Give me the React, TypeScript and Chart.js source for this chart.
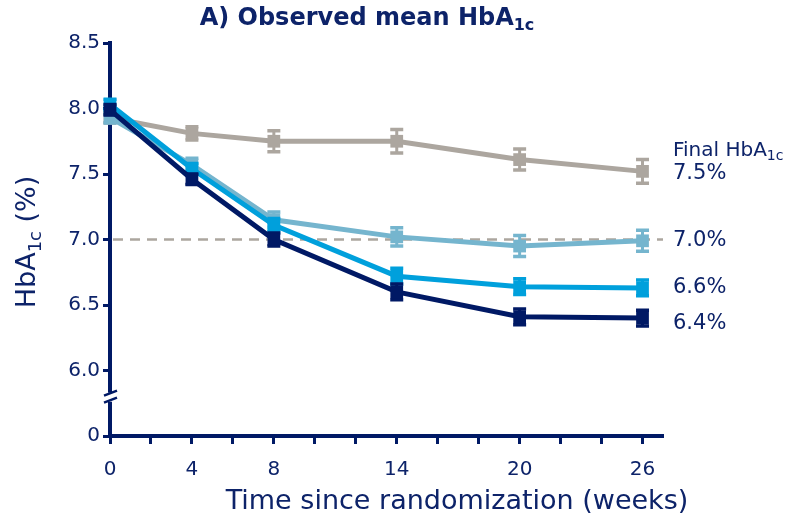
import React, { useEffect, useRef } from "react";
import { Chart, registerables } from "chart.js";

Chart.register(...registerables);

// ---- data ----
const weeks = [0, 4, 8, 14, 20, 26];
const xMinorTicks = [0, 2, 4, 6, 8, 10, 12, 14, 16, 18, 20, 22, 24, 26];
const xLabelWeeks = [0, 4, 8, 14, 20, 26];
const yTicks = [5.5, 6.0, 6.5, 7.0, 7.5, 8.0, 8.5];
const yBreakLabelValue = 5.5; // shown as "0" below the axis break

const navyMean = [7.99, 7.46, 7.0, 6.6, 6.41, 6.4];
const navyErr = [0.04, 0.04, 0.05, 0.06, 0.06, 0.06];
const cyanMean = [8.03, 7.54, 7.11, 6.72, 6.64, 6.63];
const cyanErr = [0.04, 0.04, 0.05, 0.06, 0.06, 0.06];
const lightBlueMean = [7.93, 7.57, 7.15, 7.02, 6.95, 6.99];
const lightBlueErr = [0.04, 0.05, 0.06, 0.07, 0.08, 0.08];
const grayMean = [7.93, 7.81, 7.75, 7.75, 7.61, 7.52];
const grayErr = [0.04, 0.05, 0.08, 0.09, 0.08, 0.09];

const finalLabels = ["6.4%", "6.6%", "7.0%", "7.5%"];
const targetLine = 7.0;

// label nudges (px) for readability, per series
const labelNudge = [5, 0, 0, 2];

const NAVY = "#001965";
const TEXT = "#0d2369";
const CYAN = "#00a0dc";
const LIGHTBLUE = "#75b5ce";
const GRAY = "#aca69f";
const FONT = "'DejaVu Sans', Verdana, sans-serif";

const series = [
  { label: "Series 1", data: navyMean, err: navyErr, color: NAVY },
  { label: "Series 2", data: cyanMean, err: cyanErr, color: CYAN },
  { label: "Series 3", data: lightBlueMean, err: lightBlueErr, color: LIGHTBLUE },
  { label: "Series 4", data: grayMean, err: grayErr, color: GRAY },
];

type Seg = { t: string; sub?: boolean };

function drawRich(
  ctx: CanvasRenderingContext2D,
  segs: Seg[],
  x: number,
  y: number,
  size: number,
  bold: boolean,
  align: "left" | "center"
) {
  const w = bold ? "bold " : "";
  const subSize = Math.round(size * 0.68);
  let total = 0;
  for (const s of segs) {
    ctx.font = `${w}${s.sub ? subSize : size}px ${FONT}`;
    total += ctx.measureText(s.t).width;
  }
  let cx = align === "center" ? x - total / 2 : x;
  ctx.textAlign = "left";
  ctx.textBaseline = "middle";
  for (const s of segs) {
    ctx.font = `${w}${s.sub ? subSize : size}px ${FONT}`;
    ctx.fillText(s.t, cx, s.sub ? y + size * 0.3 : y);
    cx += ctx.measureText(s.t).width;
  }
}

const decorPlugin = {
  id: "decor",
  beforeDatasetsDraw(chart: any) {
    const { ctx, chartArea, scales } = chart;
    const y = scales.y.getPixelForValue(targetLine);
    ctx.save();
    ctx.strokeStyle = GRAY;
    ctx.lineWidth = 2.5;
    ctx.setLineDash([10, 7]);
    ctx.beginPath();
    ctx.moveTo(chartArea.left + 3, y);
    ctx.lineTo(chartArea.right, y);
    ctx.stroke();
    ctx.restore();
  },
  beforeDatasetDraw(chart: any, args: any) {
    const s = series[args.index];
    if (!s) return;
    const { ctx, scales } = chart;
    ctx.save();
    ctx.strokeStyle = s.color;
    ctx.lineCap = "butt";
    for (let j = 0; j < weeks.length; j++) {
      const x = scales.x.getPixelForValue(weeks[j]);
      const yt = scales.y.getPixelForValue(s.data[j] + s.err[j]);
      const yb = scales.y.getPixelForValue(s.data[j] - s.err[j]);
      ctx.lineWidth = 3;
      ctx.beginPath();
      ctx.moveTo(x, yt);
      ctx.lineTo(x, yb);
      ctx.stroke();
      ctx.lineWidth = 3.5;
      ctx.beginPath();
      ctx.moveTo(x - 6.5, yt);
      ctx.lineTo(x + 6.5, yt);
      ctx.moveTo(x - 6.5, yb);
      ctx.lineTo(x + 6.5, yb);
      ctx.stroke();
    }
    ctx.restore();
  },
  afterDraw(chart: any) {
    const { ctx, chartArea, scales } = chart;
    ctx.save();
    // axis break on y axis
    const ax = chartArea.left;
    const yb = scales.y.getPixelForValue(5.8);
    ctx.fillStyle = "#ffffff";
    ctx.fillRect(ax - 4, yb - 4, 8, 9);
    ctx.strokeStyle = NAVY;
    ctx.lineWidth = 2.5;
    ctx.beginPath();
    ctx.moveTo(ax - 6, yb - 1);
    ctx.lineTo(ax + 7, yb - 6);
    ctx.moveTo(ax - 6, yb + 6);
    ctx.lineTo(ax + 7, yb + 1);
    ctx.stroke();

    ctx.fillStyle = TEXT;
    // title
    drawRich(ctx, [{ t: "A) Observed mean HbA" }, { t: "1c", sub: true }], 367, 19, 24, true, "center");
    // x title
    drawRich(ctx, [{ t: "Time since randomization (weeks)" }], 457, 502, 27, false, "center");
    // y title
    ctx.save();
    ctx.translate(28, 242);
    ctx.rotate(-Math.PI / 2);
    drawRich(ctx, [{ t: "HbA" }, { t: "1c", sub: true }, { t: " (%)" }], 0, 0, 27, false, "center");
    ctx.restore();
    // right-side labels
    const lx = chartArea.right + 10;
    series.forEach((s, i) => {
      const y = scales.y.getPixelForValue(s.data[s.data.length - 1]) + labelNudge[i];
      drawRich(ctx, [{ t: finalLabels[i] }], lx, y, 21, false, "left");
    });
    const gy = scales.y.getPixelForValue(grayMean[grayMean.length - 1]) + labelNudge[3];
    drawRich(ctx, [{ t: "Final HbA" }, { t: "1c", sub: true }], lx, gy - 23, 20, false, "left");
    ctx.restore();
  },
};

export default function App() {
  const ref = useRef<HTMLCanvasElement>(null);
  useEffect(() => {
    document.body.style.margin = "0";
    const chart = new Chart(ref.current as HTMLCanvasElement, {
      type: "line",
      data: {
        datasets: series.map((s) => ({
          label: s.label,
          data: weeks.map((w, i) => ({ x: w, y: s.data[i] })),
          borderColor: s.color,
          backgroundColor: s.color,
          borderWidth: 5,
          pointStyle: "rect",
          pointRadius: 9,
          pointHoverRadius: 9,
          pointBorderWidth: 0,
          tension: 0,
          clip: false as any,
        })),
      },
      options: {
        responsive: false,
        animation: false,
        layout: { padding: { top: 43, right: 122, bottom: 0, left: 0 } },
        plugins: {
          legend: { display: false },
          tooltip: { enabled: false },
          title: { display: false },
        },
        scales: {
          x: {
            type: "linear",
            min: 0,
            max: 27,
            afterBuildTicks: (scale: any) => {
              scale.ticks = xMinorTicks.map((v) => ({ value: v }));
            },
            afterFit: (scale: any) => {
              scale.height = 84;
            },
            ticks: {
              autoSkip: false,
              maxRotation: 0,
              padding: 14,
              color: TEXT,
              font: { family: FONT, size: 20 },
              callback: (v: any) => (xLabelWeeks.includes(Number(v)) ? String(v) : ""),
            },
            grid: {
              drawOnChartArea: false,
              drawTicks: true,
              tickLength: 8,
              tickColor: NAVY,
              tickWidth: 3,
            },
            border: { display: true, color: NAVY, width: 4 },
          },
          y: {
            type: "linear",
            min: 5.5,
            max: 8.5,
            afterBuildTicks: (scale: any) => {
              scale.ticks = yTicks.map((v) => ({ value: v }));
            },
            afterFit: (scale: any) => {
              scale.width = 110;
            },
            ticks: {
              autoSkip: false,
              padding: 3,
              color: TEXT,
              font: { family: FONT, size: 20 },
              callback: (v: any) =>
                Number(v) === yBreakLabelValue ? "0" : Number(v).toFixed(1),
            },
            grid: {
              drawOnChartArea: false,
              drawTicks: true,
              tickLength: 7,
              tickColor: NAVY,
              tickWidth: 3,
            },
            border: { display: true, color: NAVY, width: 4 },
          },
        },
      } as any,
      plugins: [decorPlugin],
    });
    return () => chart.destroy();
  }, []);
  return (
    <div style={{ width: 785, height: 520 }}>
      <canvas ref={ref} width={785} height={520} style={{ display: "block" }} />
    </div>
  );
}
